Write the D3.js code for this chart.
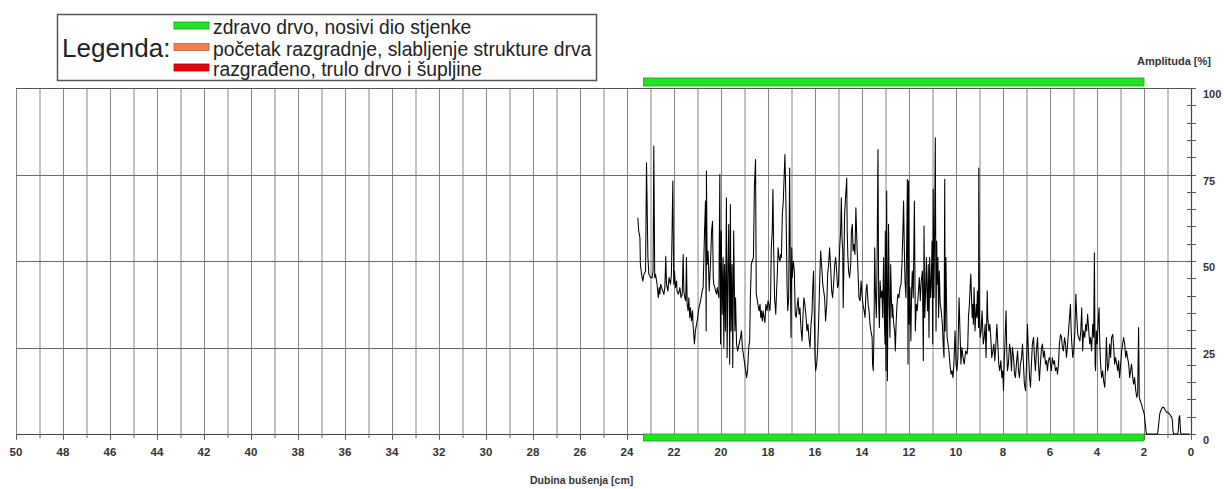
<!DOCTYPE html>
<html><head><meta charset="utf-8">
<script src="https://cdn.jsdelivr.net/npm/d3@7"></script>
<style>html,body{margin:0;padding:0;background:#fff;}svg{display:block;font-family:"Liberation Sans",Arial,sans-serif;}</style>
</head><body><svg id="c" width="1224" height="489"></svg>
<script>
// ---- data: resistograph profile (depth in cm, amplitude in %) ----
const depthCm = [
23.54,23.50,23.45,23.43,23.38,23.33,23.28,23.21,23.17,23.11,23.07,23.00,22.93,22.89,22.86,22.82,22.79,22.72,22.67,22.63,22.60,22.57,22.50,22.43,22.39,22.35,22.32,22.26,22.21,22.15,22.11,22.05,22.01,21.98,21.94,21.89,21.87,21.81,21.75,21.70,21.65,21.61,21.58,21.54,21.50,21.47,21.44,21.40,21.37,21.33,21.30,21.26,21.21,21.19,21.16,21.13,21.09,21.04,20.99,20.94,20.87,20.80,20.76,20.70,20.66,20.63,20.62,20.59,20.55,20.50,20.45,20.40,20.36,20.33,20.31,20.26,20.23,20.19,20.16,20.14,20.09,20.05,20.02,19.99,19.95,19.91,19.88,19.85,19.81,19.77,19.74,19.70,19.67,19.63,19.60,19.57,19.53,19.50,19.46,19.41,19.38,19.34,19.29,19.23,19.17,19.13,19.09,19.03,
18.99,18.95,18.91,18.87,18.82,18.78,18.75,18.71,18.67,18.62,18.58,18.53,18.50,18.47,18.43,18.38,18.34,18.31,18.28,18.24,18.21,18.17,18.13,18.09,18.04,18.00,17.96,17.92,17.89,17.86,17.82,17.79,17.76,17.72,17.67,17.65,17.60,17.57,17.53,17.49,17.46,17.43,17.39,17.35,17.32,17.28,17.24,17.19,17.16,17.12,17.08,17.05,17.02,16.99,16.97,16.92,16.88,16.84,16.80,16.75,16.72,16.68,16.64,16.60,16.55,16.51,16.47,16.43,16.38,16.34,16.30,16.26,16.21,16.17,16.13,16.09,16.06,16.03,16.00,15.97,15.93,15.89,15.84,15.80,15.76,15.72,15.67,15.63,15.59,15.55,15.50,15.46,15.42,15.38,15.34,15.29,15.25,15.21,15.16,15.12,15.08,15.04,15.00,14.95,14.91,14.88,14.85,14.82,14.80,14.77,14.74,14.70,14.65,14.63,14.60,14.57,14.53,14.48,14.45,14.41,14.38,14.34,14.30,14.26,14.21,14.17,14.13,
14.08,14.04,14.00,13.96,13.91,13.87,13.83,13.79,13.74,13.70,13.66,13.62,13.57,13.55,13.52,13.49,13.46,13.43,13.39,13.36,13.32,13.29,13.26,13.23,13.19,13.15,13.12,13.08,13.05,13.02,13.01,12.98,12.95,12.92,12.89,12.87,12.84,12.81,12.78,12.75,12.72,12.70,12.65,12.61,12.58,12.55,12.51,12.47,12.43,12.38,12.34,12.30,12.26,12.23,12.20,12.17,12.13,12.10,12.07,12.04,12.02,11.99,11.96,11.92,11.89,11.86,11.82,11.77,11.73,11.69,11.65,11.60,11.56,11.52,11.48,11.43,11.39,11.36,11.33,11.31,11.26,11.24,11.21,11.18,11.15,11.12,11.08,11.05,11.02,10.99,10.97,10.94,10.91,10.88,10.85,10.82,10.80,10.77,10.74,10.71,10.67,10.63,10.58,10.54,10.51,10.48,10.46,10.43,10.38,10.34,10.30,10.26,10.21,10.17,10.13,10.09,10.04,10.00,9.96,9.92,9.87,9.83,9.79,9.75,9.70,9.65,9.59,9.53,
9.50,9.47,9.43,9.40,9.37,9.34,9.31,9.28,9.26,9.23,9.19,9.14,9.11,9.09,9.04,9.03,9.00,8.97,8.93,8.89,8.84,8.80,8.76,8.72,8.67,8.65,8.60,8.56,8.52,8.48,8.43,8.39,8.35,8.31,8.26,8.22,8.18,8.14,8.09,8.05,8.01,7.98,7.95,7.91,7.87,7.84,7.81,7.77,7.72,7.68,7.64,7.60,7.55,7.51,7.47,7.43,7.38,7.34,7.30,7.26,7.21,7.17,7.13,7.09,7.04,7.00,6.96,6.92,6.87,6.83,6.79,6.75,6.70,6.66,6.62,6.58,6.53,6.49,6.45,6.41,6.36,6.32,6.28,6.24,6.19,6.15,6.11,6.07,6.02,5.98,5.94,5.90,5.85,5.81,5.77,5.72,5.68,5.64,5.60,5.55,5.51,5.47,5.43,5.38,5.34,5.30,5.26,5.21,5.17,5.13,5.10,5.07,5.03,4.99,4.94,4.90,4.86,4.82,4.78,4.73,4.69,
4.65,4.61,4.57,4.52,4.48,4.44,4.40,4.35,4.31,4.27,4.23,4.18,4.14,4.11,4.08,4.06,4.03,3.99,3.94,3.91,3.89,3.86,3.83,3.80,3.76,3.72,3.67,3.63,3.60,3.57,3.55,3.50,3.46,3.42,3.38,3.33,3.29,3.25,3.21,3.16,3.12,3.08,3.04,2.99,2.95,2.91,2.87,2.82,2.78,2.74,2.70,2.65,2.61,2.57,2.53,2.48,2.44,2.40,2.35,2.31,2.27,2.23,2.20,2.16,2.11,2.07,2.03,1.99,1.96,1.93,1.90,1.42,1.36,1.33,1.29,1.25,1.21,1.16,1.12,1.08,1.04,0.99,0.95,0.91,0.87,0.82,0.79,0.77,0.74,0.57,0.54,0.51,0.48,0.45,0.43,0.07
];
const amplitudePct = [
62.5,58.7,56.7,49.0,46.2,44.2,46.2,47.1,78.4,51.0,46.2,45.2,45.2,47.1,83.2,45.2,46.2,43.3,39.4,42.3,40.4,43.3,41.8,40.4,42.3,51.4,43.3,41.3,45.2,43.3,46.2,73.1,43.3,47.1,42.3,44.2,41.3,40.4,42.3,39.4,40.4,51.9,41.3,39.4,38.5,51.0,37.5,35.6,39.4,33.7,36.5,32.7,35.6,31.7,28.8,26.0,29.8,31.7,33.7,36.5,38.5,41.3,42.3,58.7,67.3,29.8,76.0,49.0,52.9,41.3,49.0,58.7,61.5,45.2,43.3,42.3,41.3,40.4,42.3,41.3,39.4,75.0,26.0,58.7,34.6,51.0,25.0,49.0,29.8,68.3,22.1,49.0,60.6,20.2,66.3,29.8,49.0,19.2,58.7,29.8,39.4,26.0,24.0,26.0,27.9,29.8,25.0,22.1,
20.2,18.3,16.3,18.3,25.0,26.9,39.4,49.0,50.0,51.0,71.2,79.3,40.4,39.4,37.5,35.6,37.5,33.7,35.6,32.7,35.6,33.7,32.2,37.5,35.6,38.5,37.5,35.6,39.4,53.8,58.7,70.7,53.8,39.4,34.6,38.5,47.1,53.8,51.0,50.0,51.9,51.0,63.5,67.3,73.1,80.8,68.3,43.3,35.6,39.4,76.9,49.0,27.9,53.8,45.2,50.0,47.1,34.6,33.7,37.5,39.4,34.6,36.5,30.8,26.9,34.6,39.4,37.5,33.7,29.8,31.7,27.9,25.0,31.7,34.6,43.3,47.1,34.6,22.1,18.3,20.2,24.0,33.7,44.2,52.9,49.0,43.3,41.3,39.4,32.7,37.5,46.2,49.0,53.8,49.0,41.3,39.4,43.3,49.0,51.0,47.1,42.3,43.3,53.8,58.7,68.3,56.7,52.9,36.5,49.0,63.5,68.3,74.0,58.7,51.0,47.1,45.2,49.0,58.7,60.6,52.9,54.8,51.9,65.4,53.8,47.1,39.4,
38.5,44.2,40.4,37.5,35.6,33.7,41.3,43.3,37.5,35.6,31.7,29.8,27.9,20.2,18.3,29.8,53.8,41.3,33.7,49.0,82.2,37.5,30.8,44.2,39.4,41.3,33.7,51.0,33.7,26.0,58.7,18.3,70.2,15.4,43.3,60.6,37.5,27.9,49.0,39.4,33.7,37.5,31.7,29.8,24.0,31.7,37.5,40.4,39.4,42.3,43.3,49.0,58.7,67.3,53.8,44.2,39.4,53.8,73.6,20.2,73.1,31.7,42.3,26.9,41.3,47.1,39.4,67.3,29.8,37.5,35.6,41.3,45.2,38.5,44.2,47.1,21.2,60.1,33.7,37.5,51.0,41.3,35.6,49.0,27.9,51.0,39.4,44.2,55.8,26.0,70.7,39.4,58.7,85.6,29.8,55.8,43.3,51.0,33.7,47.1,37.5,35.6,31.7,25.0,22.1,73.6,29.8,51.0,27.9,26.0,24.0,20.2,17.3,18.3,16.3,20.2,29.8,20.2,18.3,22.1,39.4,29.8,20.2,25.0,22.1,20.2,24.0,23.1,
25.0,33.7,37.5,42.3,46.2,39.4,33.7,37.5,31.7,42.3,29.8,37.5,33.7,41.3,30.8,76.9,33.7,27.9,29.8,35.6,26.0,27.9,31.7,22.1,41.3,33.7,29.8,31.7,27.9,22.1,24.0,26.0,21.2,25.0,31.7,26.0,20.2,18.3,21.2,16.3,18.3,12.5,20.2,27.9,35.6,24.0,18.3,20.2,26.0,24.0,18.3,25.0,22.1,17.3,16.3,20.2,24.0,18.3,16.3,20.2,22.1,26.0,20.2,14.4,12.5,20.2,31.7,24.0,16.3,13.5,20.2,26.0,27.9,22.1,18.3,24.0,27.9,20.2,15.4,20.2,25.0,26.0,22.1,24.0,20.2,21.2,18.3,21.2,22.1,20.2,18.3,22.1,20.2,21.2,18.3,19.2,17.3,20.2,26.0,28.8,27.9,25.0,24.0,27.9,26.0,22.1,25.0,29.8,33.7,37.5,29.8,26.0,22.1,24.0,29.8,40.4,33.7,28.8,27.9,26.9,29.8,
36.5,24.0,29.8,27.9,31.7,29.8,34.6,29.8,26.0,27.9,24.0,31.7,27.9,52.4,20.2,18.3,29.8,26.0,33.7,36.5,27.9,22.1,18.3,16.3,18.3,15.4,13.5,20.2,27.9,22.1,18.3,20.2,26.0,22.1,27.9,28.8,25.0,20.2,22.1,20.2,18.3,21.2,16.3,20.2,24.0,26.0,27.9,26.0,22.1,24.0,22.1,20.2,16.3,18.3,20.2,16.3,14.4,16.3,12.5,10.6,11.5,30.8,10.6,9.6,8.7,7.7,6.7,5.8,3.8,1.9,0,0,3.8,5.8,6.7,7.2,7.7,7.7,7.2,6.7,6.3,6.3,6.0,5.8,5.3,4.8,3.8,1.0,0,0,1.0,4.8,5.3,1.0,0,0
];
const xTickLabels = [50,48,46,44,42,40,38,36,34,32,30,28,26,24,22,20,18,16,14,12,10,8,6,4,2,0];
const yTickLabels = [0,25,50,75,100];
// wood condition zones along the drilling depth
const zoneStart = [23.3];
const zoneEnd = [2.0];
const zoneClass = [0];
const legendLabels = ["zdravo drvo, nosivi dio stjenke","početak razgradnje, slabljenje strukture drva","razgrađeno, trulo drvo i šupljine"];
const legendColors = ["#22e322","#f2814a","#e8000c"];
const legendStroke = ["#17a017","#b8602f","#a00008"];
const legendTitle = "Legenda:";
const xTitle = "Dubina bušenja [cm]";
const yTitle = "Amplituda [%]";

// ---- drawing ----
const svg = d3.select("#c");
const P = {left:16, right:1191, top:88, bottom:434};
const x = d3.scaleLinear().domain([50,0]).range([P.left,P.right]);
const y = d3.scaleLinear().domain([0,100]).range([P.bottom,P.top]);

const grid = svg.append("g");
grid.selectAll("line.v").data(d3.range(0,51)).join("line")
  .attr("x1",d=>x(d)+0.5).attr("x2",d=>x(d)+0.5)
  .attr("y1",y(100)).attr("y2",y(0))
  .attr("stroke","#858585").attr("stroke-width",1);
grid.selectAll("line.h").data([25,50,75]).join("line")
  .attr("x1",x(50)).attr("x2",x(0))
  .attr("y1",d=>Math.round(y(d))+0.5).attr("y2",d=>Math.round(y(d))+0.5)
  .attr("stroke","#6a6a6a").attr("stroke-width",1);
// top frame
grid.append("line").attr("x1",x(50)).attr("x2",x(0)+4)
  .attr("y1",Math.round(y(100))+0.5).attr("y2",Math.round(y(100))+0.5)
  .attr("stroke","#555").attr("stroke-width",1);

// bottom axis
const bottom = svg.append("g");
bottom.append("line").attr("x1",x(50)).attr("x2",x(0)+4)
  .attr("y1",y(0)+0.5).attr("y2",y(0)+0.5).attr("stroke","#444").attr("stroke-width",1.2);
bottom.selectAll("line.t").data(d3.range(0,51)).join("line")
  .attr("x1",d=>x(d)+0.5).attr("x2",d=>x(d)+0.5)
  .attr("y1",y(0)).attr("y2",d=>y(0)+(d%2===0?6:4))
  .attr("stroke","#666");
bottom.selectAll("text").data(xTickLabels).join("text")
  .attr("x",d=>x(d)).attr("y",456).attr("text-anchor","middle")
  .attr("font-size",11.5).attr("font-weight","bold").attr("fill","#333")
  .text(d=>d);

// right axis
const right = svg.append("g");
right.append("line").attr("x1",x(0)+0.5).attr("x2",x(0)+0.5)
  .attr("y1",y(100)).attr("y2",y(0)).attr("stroke","#444").attr("stroke-width",1.2);
right.selectAll("line.t").data(d3.range(0,101,5)).join("line")
  .attr("x1",x(0)-4).attr("x2",x(0)+5)
  .attr("y1",d=>Math.round(y(d))+0.5).attr("y2",d=>Math.round(y(d))+0.5)
  .attr("stroke","#555");
right.selectAll("text").data(yTickLabels).join("text")
  .attr("x",1203).attr("y",d=>y(d)+10).attr("font-size",11).attr("font-weight","bold")
  .attr("fill","#333").text(d=>d);

// profile trace
const pts = depthCm.map((d,i)=>[d, amplitudePct[i]]);
svg.append("path").datum(pts)
  .attr("d", d3.line().x(d=>x(d[0])).y(d=>y(d[1])))
  .attr("fill","none").attr("stroke","#000").attr("stroke-width",1.05)
  .attr("stroke-linejoin","round");

// zone bars (top and bottom)
zoneStart.forEach((s,i)=>{
  const c = zoneClass[i];
  [[78,8],[434,7]].forEach(([yy,h])=>{
    svg.append("rect").attr("x",x(s)).attr("y",yy)
      .attr("width",x(zoneEnd[i])-x(s)).attr("height",h)
      .attr("fill",legendColors[c]).attr("stroke",legendStroke[c]).attr("stroke-width",0.8);
  });
});

// titles
svg.append("text").attr("x",1137).attr("y",65).attr("font-size",11).attr("font-weight","bold")
  .attr("fill","#333").text(yTitle);
svg.append("text").attr("x",530).attr("y",484).attr("font-size",10.5).attr("font-weight","bold")
  .attr("fill","#333").text(xTitle);

// legend
const lg = svg.append("g");
lg.append("rect").attr("x",57.5).attr("y",14.5).attr("width",539).attr("height",66)
  .attr("fill","#fff").attr("stroke","#555").attr("stroke-width",1.5);
lg.append("text").attr("x",62).attr("y",57).attr("font-size",26).attr("fill","#222").text(legendTitle);
const rowY = [22,43.5,64];
legendLabels.forEach((t,i)=>{
  lg.append("rect").attr("x",174).attr("y",rowY[i]).attr("width",35).attr("height",7)
    .attr("fill",legendColors[i]).attr("stroke",legendStroke[i]).attr("stroke-width",0.8);
  lg.append("text").attr("x",213).attr("y",rowY[i]+12).attr("font-size",19.3).attr("fill","#222").text(t);
});
</script></body></html>
